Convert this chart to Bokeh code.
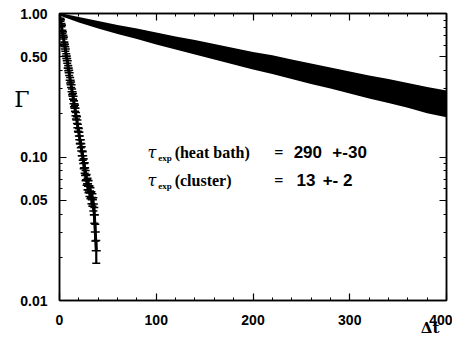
from bokeh.plotting import figure
from bokeh.models import (Range1d, FixedTicker, PrintfTickFormatter, LinearAxis,
                          LogAxis, Label, ColumnDataSource)
from bokeh.embed import file_html
from bokeh.resources import INLINE

# ---- data ----
hb_t = [0, 20, 40, 60, 80, 100, 120, 140, 160, 180, 200,
        220, 240, 260, 280, 300, 320, 340, 360, 380, 400]
hb_gamma = [0.988, 0.906, 0.837, 0.776, 0.725, 0.673, 0.626, 0.586, 0.546, 0.508, 0.473,
            0.445, 0.414, 0.386, 0.360, 0.336, 0.313, 0.294, 0.274, 0.255, 0.240]
hb_err = [0.020, 0.040, 0.051, 0.056, 0.061, 0.065, 0.065, 0.068, 0.068, 0.067, 0.066,
          0.066, 0.064, 0.063, 0.060, 0.059, 0.057, 0.056, 0.054, 0.053, 0.051]

cl_t = [0, 1, 2, 3, 4, 5, 6, 7, 8, 9, 10, 11, 12, 13, 14, 15, 16, 17, 18, 19,
        20, 21, 22, 23, 24, 25, 26, 27, 28, 29, 30, 31, 32, 33, 34, 35, 36, 37, 38]
cl_gamma = [1.000, 0.905, 0.830, 0.745, 0.684, 0.612, 0.566, 0.505, 0.468, 0.416,
            0.386, 0.343, 0.319, 0.285, 0.265, 0.235, 0.219, 0.194, 0.181, 0.160,
            0.149, 0.132, 0.124, 0.110, 0.102, 0.090, 0.084, 0.0745, 0.0695, 0.0650,
            0.0625, 0.0580, 0.0562, 0.0522, 0.0505, 0.0470, 0.0395, 0.0300, 0.0222]
cl_err = [0.010, 0.020, 0.020, 0.020, 0.020, 0.020, 0.020, 0.019, 0.018, 0.017,
          0.016, 0.015, 0.014, 0.013, 0.012, 0.011, 0.011, 0.010, 0.010, 0.009,
          0.009, 0.008, 0.008, 0.008, 0.007, 0.007, 0.007, 0.006, 0.006, 0.006,
          0.006, 0.005, 0.005, 0.005, 0.005, 0.005, 0.005, 0.004, 0.004]

y_ticks = [0.01, 0.05, 0.1, 0.5, 1.0]
y_minor = [0.02, 0.03, 0.04, 0.06, 0.07, 0.08, 0.09, 0.2, 0.3, 0.4, 0.6, 0.7, 0.8, 0.9]
x_ticks = [0, 100, 200, 300, 400]
x_minor = [20, 40, 60, 80, 120, 140, 160, 180, 220, 240, 260, 280, 320, 340, 360, 380]
y_title_at = 0.25
x_title_at = 383

# ---- figure ----
p = figure(frame_width=387, frame_height=287, y_axis_type="log",
           x_range=Range1d(0, 400), y_range=Range1d(0.01, 1.0),
           output_backend="svg", toolbar_location=None,
           min_border_left=59, min_border_right=6, min_border_top=13, min_border_bottom=40)
p.grid.visible = False
p.outline_line_color = "black"
p.outline_line_width = 1.5
p.background_fill_color = "white"
p.border_fill_color = "white"

hb = ColumnDataSource(dict(t=hb_t,
                           lo=[g - e for g, e in zip(hb_gamma, hb_err)],
                           hi=[g + e for g, e in zip(hb_gamma, hb_err)]))
p.varea(x="t", y1="lo", y2="hi", source=hb, fill_color="black")

cl = ColumnDataSource(dict(t=cl_t, g=cl_gamma,
                           lo=[g - e for g, e in zip(cl_gamma, cl_err)],
                           hi=[g + e for g, e in zip(cl_gamma, cl_err)]))
p.segment(x0="t", y0="lo", x1="t", y1="hi", source=cl, line_color="black", line_width=2.2)
p.line(x="t", y="g", source=cl, line_color="black", line_width=3)
p.scatter(x="t", y="hi", source=cl, marker="dash", size=8, line_color="black", line_width=1.6)
p.scatter(x="t", y="lo", source=cl, marker="dash", size=8, line_color="black", line_width=1.6)
p.scatter(x="t", y="g", source=cl, marker="dash", size=9, line_color="black", line_width=1.6)

font = "Liberation Sans"

def style_axis(ax, show_labels, ticks):
    ax.axis_line_color = "black"
    ax.axis_line_width = 1.5
    ax.major_tick_line_color = "black"
    ax.minor_tick_line_color = "black"
    ax.major_tick_line_width = 1.2
    ax.minor_tick_line_width = 1
    ax.major_tick_out = 0
    ax.minor_tick_out = 0
    ax.major_tick_in = 7
    ax.minor_tick_in = 3
    if show_labels:
        ax.major_label_text_font = font
        ax.major_label_text_font_style = "bold"
        ax.major_label_text_font_size = "14px"
        ax.major_label_text_color = "black"
    else:
        ax.major_label_overrides = {t: "" for t in ticks}
        ax.major_label_standoff = 0

def title_axis(ax, text_size, standoff, bold):
    ax.axis_line_color = None
    ax.major_tick_line_color = None
    ax.minor_tick_line_color = None
    ax.major_tick_in = 0
    ax.major_tick_out = 0
    ax.minor_tick_in = 0
    ax.minor_tick_out = 0
    ax.major_label_standoff = standoff
    ax.major_label_text_font = "DejaVu Serif"
    ax.major_label_text_font_size = text_size
    ax.major_label_text_font_style = "bold" if bold else "normal"
    ax.major_label_text_color = "black"

# bottom
xb = p.xaxis[0]
xb.ticker = FixedTicker(ticks=x_ticks, minor_ticks=x_minor)
style_axis(xb, True, x_ticks)
xb.major_label_standoff = 14
# left
yl = p.yaxis[0]
yl.ticker = FixedTicker(ticks=y_ticks, minor_ticks=y_minor)
yl.formatter = PrintfTickFormatter(format="%.2f")
style_axis(yl, True, y_ticks)
yl.major_label_standoff = 12
# axis titles: outer axes whose only label is the title
yg = LogAxis(ticker=FixedTicker(ticks=[y_title_at]),
             major_label_overrides={y_title_at: "Γ"})
title_axis(yg, "22px", -12, False)
p.add_layout(yg, "left")
xg = LinearAxis(ticker=FixedTicker(ticks=[x_title_at]),
                major_label_overrides={x_title_at: "Δt"})
title_axis(xg, "15px", -9, True)
p.add_layout(xg, "below")
# top / right mirror
xt = LinearAxis(ticker=FixedTicker(ticks=x_ticks, minor_ticks=x_minor))
style_axis(xt, False, x_ticks)
p.add_layout(xt, "above")
yr = LogAxis(ticker=FixedTicker(ticks=y_ticks, minor_ticks=y_minor))
style_axis(yr, False, y_ticks)
p.add_layout(yr, "right")

# annotation
tfont = "Liberation Serif"
rows = [(0.1075, "(heat bath)", [("290", 242), ("+-30", 282)]),
        (0.0686, "(cluster)", [("13", 245), ("+- 2", 272)])]
for yv, name, vals in rows:
    p.add_layout(Label(x=91, y=yv, text="τ", text_font="DejaVu Serif", text_font_style="italic",
                       text_font_size="16px", text_baseline="middle", text_color="black"))
    p.add_layout(Label(x=102, y=yv * 0.92, text="exp", text_font=tfont, text_font_style="bold",
                       text_font_size="9px", text_baseline="middle", text_color="black"))
    p.add_layout(Label(x=119, y=yv, text=name, text_font=tfont, text_font_style="bold",
                       text_font_size="16px", text_baseline="middle", text_color="black"))
    p.add_layout(Label(x=222, y=yv, text="=", text_font=tfont, text_font_style="bold",
                       text_font_size="16px", text_baseline="middle", text_color="black"))
    for txt, xv in vals:
        p.add_layout(Label(x=xv, y=yv, text=txt, text_font=font, text_font_style="bold",
                           text_font_size="17px", text_baseline="middle", text_color="black"))

open("out.html", "w").write(file_html(p, INLINE))
